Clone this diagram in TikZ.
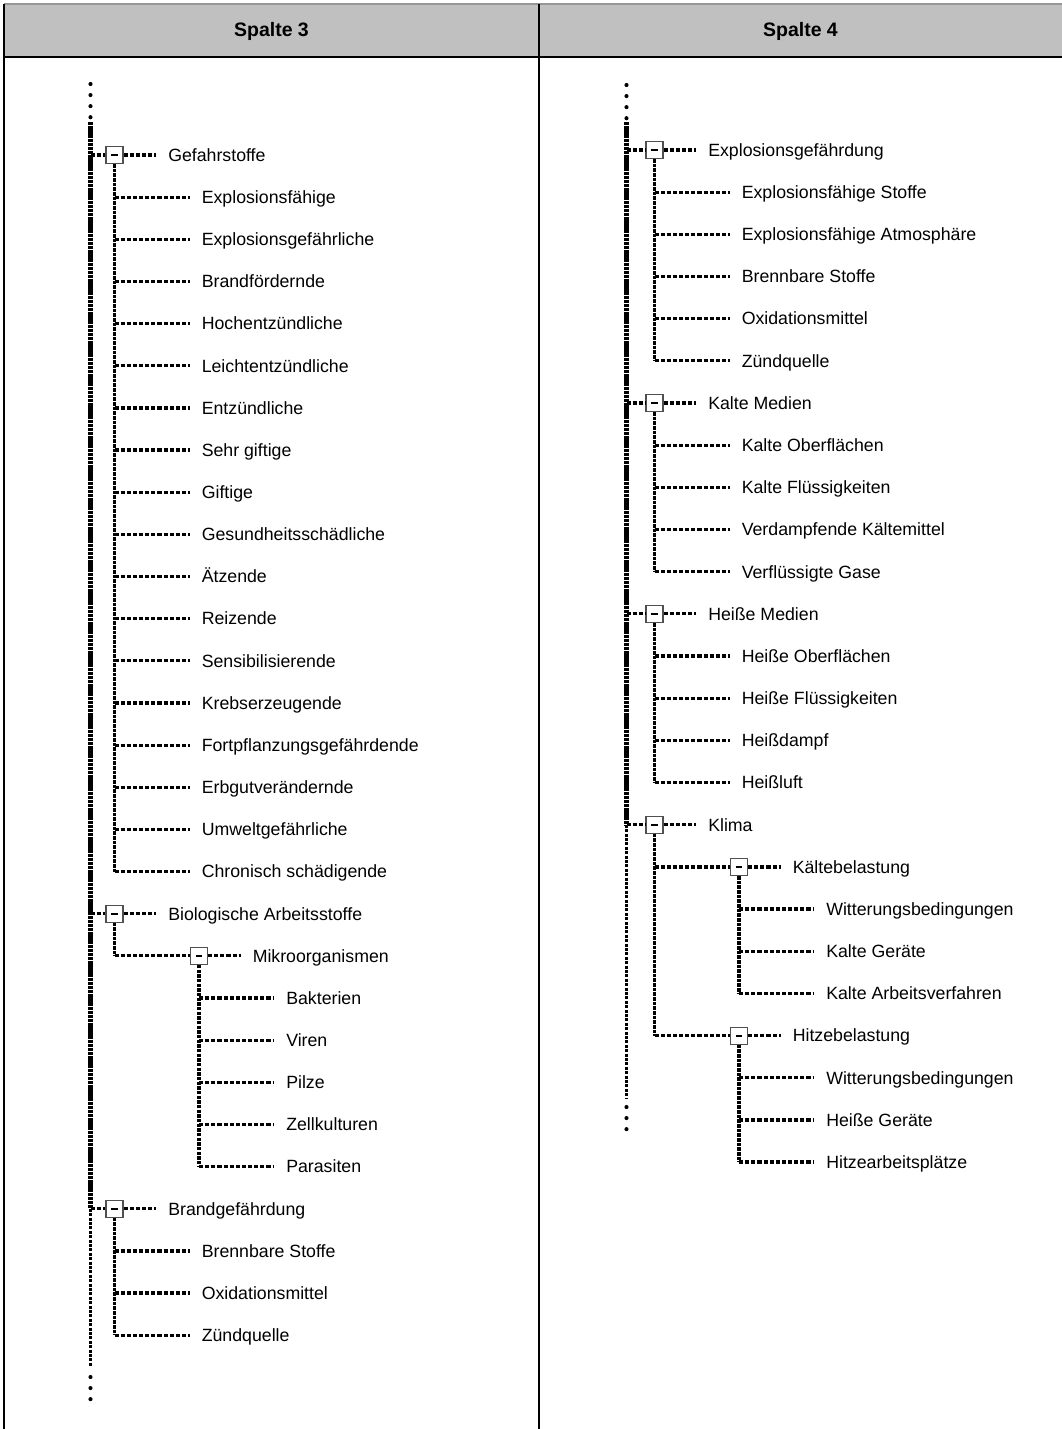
\documentclass[tikz,border=0pt]{standalone}
\usepackage{fontspec}
\setmainfont{Liberation Sans}
\definecolor{headgray}{RGB}{192,192,192}
\definecolor{linegray}{RGB}{150,150,150}
\definecolor{boxgray}{RGB}{80,80,80}
\newcommand\RL[1]{155+42.15*#1}
\newcommand\RR[1]{150+42.17*#1}
\newcommand\leafrow[4]{%
  \coordinate (#1-s) at (#2,{#3});
  \node[lbl] (#1) at ({#2+75},{#3}) {#4};
  \draw[hl] (#1-s) -- (#1.west);
}
\newcommand\boxrow[5]{%
  \coordinate (#1-s) at (#2,{#4});
  \node[tbox] (#1-b) at (#3,{#4}) {\rule{4.8pt}{1.6pt}};
  \node[lbl] (#1) at ({#3+8.5+33},{#4}) {#5};
  \draw[hl] (#1-s) -- (#1-b.west);
  \draw[hl] (#1-b.east) -- (#1.west);
}
\tikzset{
  lbl/.style={anchor=west, inner xsep=9pt, inner ysep=0pt, text height=9.45pt, text depth=0pt, font=\fontsize{13.3pt}{15pt}\selectfont},
  hdr/.style={inner sep=0pt, font=\fontsize{14.6pt}{17pt}\selectfont\bfseries},
  tbox/.style={draw=boxgray, fill=white, line width=0.8pt, minimum size=12.75pt, inner sep=0pt},
  hl/.style={line width=2.4pt, dash pattern=on 3.1pt off 1.5pt},
  vl/.style={line width=2.8pt, dash pattern=on 2.7pt off 0.8pt},
  trunk/.style={line width=3.1pt, dash pattern=on 2.6pt off 0.5pt},
  trunklo/.style={line width=2.7pt, dash pattern=on 2.3pt off 1pt},
  dotcol/.style={line width=3.1pt, line cap=round, dash pattern=on 0pt off 8.3pt},
}
\begin{document}
\begin{tikzpicture}[x=0.75pt, y=-0.75pt]
\useasboundingbox (0,0) rectangle (1062,1429);
% header and frame
\fill[headgray] (4,4) rectangle (1062,57);
\draw[linegray, line width=1pt] (4,4) -- (1062,4);
\draw[black, line width=1.5pt] (4,57) -- (1062,57);
\draw[black, line width=1.3pt] (4,4) -- (4,1429);
\draw[black, line width=1.1pt] (539,4) -- (539,1429);
\node[hdr] (h3) at (271.5,31) {Spalte 3};
\node[hdr] (h4) at (800.5,31) {Spalte 4};

% ================= left column =================
\boxrow{gef}{90.5}{114.5}{\RL{0}}{Gefahrstoffe}
\leafrow{l1}{114.5}{\RL{1}}{Explosionsfähige}
\leafrow{l2}{114.5}{\RL{2}}{Explosionsgefährliche}
\leafrow{l3}{114.5}{\RL{3}}{Brandfördernde}
\leafrow{l4}{114.5}{\RL{4}}{Hochentzündliche}
\leafrow{l5}{114.5}{\RL{5}}{Leichtentzündliche}
\leafrow{l6}{114.5}{\RL{6}}{Entzündliche}
\leafrow{l7}{114.5}{\RL{7}}{Sehr giftige}
\leafrow{l8}{114.5}{\RL{8}}{Giftige}
\leafrow{l9}{114.5}{\RL{9}}{Gesundheitsschädliche}
\leafrow{l10}{114.5}{\RL{10}}{Ätzende}
\leafrow{l11}{114.5}{\RL{11}}{Reizende}
\leafrow{l12}{114.5}{\RL{12}}{Sensibilisierende}
\leafrow{l13}{114.5}{\RL{13}}{Krebserzeugende}
\leafrow{l14}{114.5}{\RL{14}}{Fortpflanzungsgefährdende}
\leafrow{l15}{114.5}{\RL{15}}{Erbgutverändernde}
\leafrow{l16}{114.5}{\RL{16}}{Umweltgefährliche}
\leafrow{l17}{114.5}{\RL{17}}{Chronisch schädigende}
\draw[vl] (gef-b.south) -- (l17-s);

\boxrow{bio}{90.5}{114.5}{\RL{18}}{Biologische Arbeitsstoffe}
\boxrow{mik}{114.5}{199}{\RL{19}}{Mikroorganismen}
\draw[vl] (bio-b.south) -- (mik-s);
\leafrow{m1}{199}{\RL{20}}{Bakterien}
\leafrow{m2}{199}{\RL{21}}{Viren}
\leafrow{m3}{199}{\RL{22}}{Pilze}
\leafrow{m4}{199}{\RL{23}}{Zellkulturen}
\leafrow{m5}{199}{\RL{24}}{Parasiten}
\draw[vl] (mik-b.south) -- (m5-s);

\boxrow{bra}{90.5}{114.5}{\RL{25}}{Brandgefährdung}
\leafrow{b1}{114.5}{\RL{26}}{Brennbare Stoffe}
\leafrow{b2}{114.5}{\RL{27}}{Oxidationsmittel}
\leafrow{b3}{114.5}{\RL{28}}{Zündquelle}
\draw[vl] (bra-b.south) -- (b3-s);

% left trunk
\coordinate (Ld1) at (90.5,84);
\coordinate (Ld2) at (90.5,118);
\coordinate (Ltop) at (90.5,122);
\coordinate (Lend) at (90.5,1366);
\coordinate (Ld3) at (90.5,1377);
\coordinate (Ld4) at (90.5,1400);
\draw[dotcol] (Ld1) -- (Ld2);
\draw[trunk] (Ltop) -- (bra-s);
\draw[trunklo] (bra-s) -- (Lend);
\draw[dotcol] (Ld3) -- (Ld4);

% ================= right column =================
\boxrow{exg}{626.5}{654.5}{\RR{0}}{Explosionsgefährdung}
\leafrow{r1}{654.5}{\RR{1}}{Explosionsfähige Stoffe}
\leafrow{r2}{654.5}{\RR{2}}{Explosionsfähige Atmosphäre}
\leafrow{r3}{654.5}{\RR{3}}{Brennbare Stoffe}
\leafrow{r4}{654.5}{\RR{4}}{Oxidationsmittel}
\leafrow{r5}{654.5}{\RR{5}}{Zündquelle}
\draw[vl] (exg-b.south) -- (r5-s);

\boxrow{kme}{626.5}{654.5}{\RR{6}}{Kalte Medien}
\leafrow{k1}{654.5}{\RR{7}}{Kalte Oberflächen}
\leafrow{k2}{654.5}{\RR{8}}{Kalte Flüssigkeiten}
\leafrow{k3}{654.5}{\RR{9}}{Verdampfende Kältemittel}
\leafrow{k4}{654.5}{\RR{10}}{Verflüssigte Gase}
\draw[vl] (kme-b.south) -- (k4-s);

\boxrow{hme}{626.5}{654.5}{\RR{11}}{Heiße Medien}
\leafrow{h1}{654.5}{\RR{12}}{Heiße Oberflächen}
\leafrow{h2}{654.5}{\RR{13}}{Heiße Flüssigkeiten}
\leafrow{h3l}{654.5}{\RR{14}}{Heißdampf}
\leafrow{h4l}{654.5}{\RR{15}}{Heißluft}
\draw[vl] (hme-b.south) -- (h4l-s);

\boxrow{kli}{626.5}{654.5}{\RR{16}}{Klima}
\boxrow{kbe}{654.5}{739}{\RR{17}}{Kältebelastung}
\leafrow{kb1}{739}{\RR{18}}{Witterungsbedingungen}
\leafrow{kb2}{739}{\RR{19}}{Kalte Geräte}
\leafrow{kb3}{739}{\RR{20}}{Kalte Arbeitsverfahren}
\draw[vl] (kbe-b.south) -- (kb3-s);
\boxrow{hbe}{654.5}{739}{\RR{21}}{Hitzebelastung}
\leafrow{hb1}{739}{\RR{22}}{Witterungsbedingungen}
\leafrow{hb2}{739}{\RR{23}}{Heiße Geräte}
\leafrow{hb3}{739}{\RR{24}}{Hitzearbeitsplätze}
\draw[vl] (hbe-b.south) -- (hb3-s);
\draw[vl] (kli-b.south) -- (hbe-s);

% right trunk
\coordinate (Rd1) at (626.5,85);
\coordinate (Rd2) at (626.5,120);
\coordinate (Rtop) at (626.5,122);
\coordinate (Rend) at (626.5,1098);
\coordinate (Rd3) at (626.5,1107);
\coordinate (Rd4) at (626.5,1131);
\draw[dotcol] (Rd1) -- (Rd2);
\draw[trunk] (Rtop) -- (kli-s);
\draw[trunklo] (kli-s) -- (Rend);
\draw[dotcol] (Rd3) -- (Rd4);
\end{tikzpicture}
\end{document}
